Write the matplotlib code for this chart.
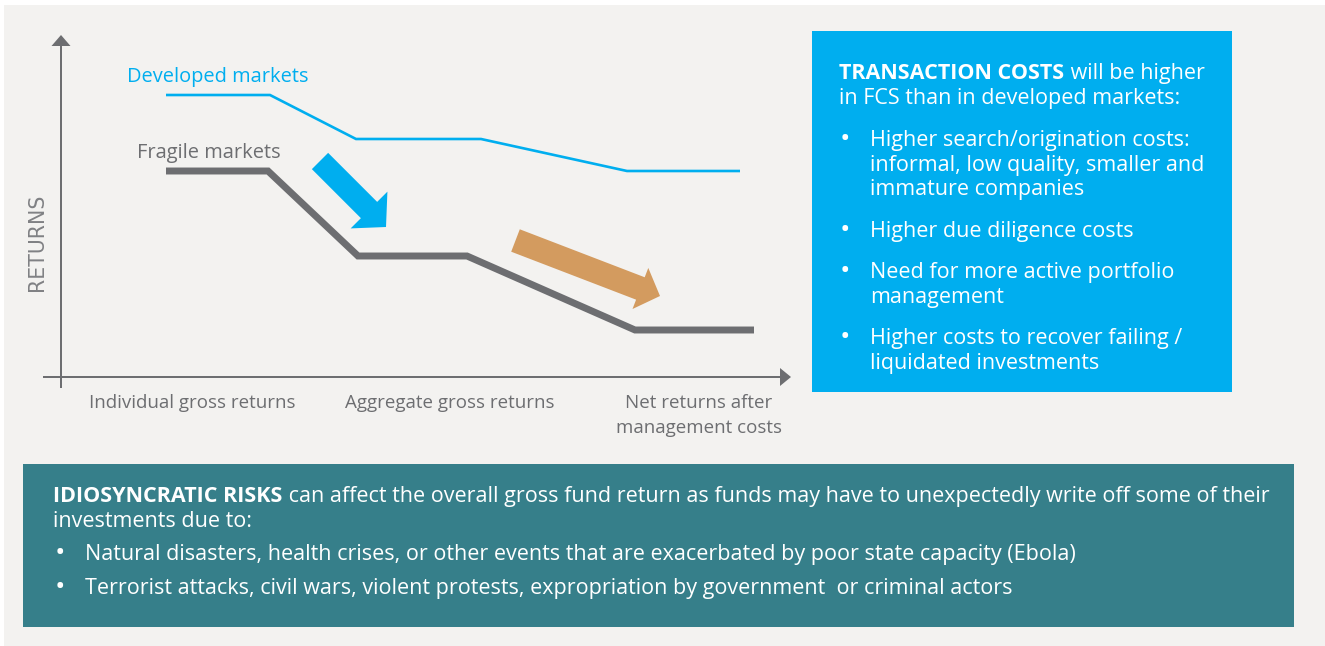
import matplotlib
matplotlib.use("Agg")
import matplotlib.pyplot as plt
from matplotlib.patches import Rectangle, FancyArrow

plt.rcParams['font.family'] = ['Open Sans', 'DejaVu Sans']

W, H, DPI = 1325, 646, 100

# ---------------- data ----------------
stage_labels = ["Individual gross returns", "Aggregate gross returns",
                "Net returns after\nmanagement costs"]
developed_returns = [282, 238, 206]
fragile_returns = [206, 121, 47]
series_names = ["Developed markets", "Fragile markets"]

transaction_title = "TRANSACTION COSTS"
transaction_intro = [" will be higher", "in FCS than in developed markets:"]
transaction_bullets = [
    ["Higher search/origination costs:", "informal, low quality, smaller and", "immature companies"],
    ["Higher due diligence costs"],
    ["Need for more active portfolio", "management"],
    ["Higher costs to recover failing /", "liquidated investments"],
]
risk_title = "IDIOSYNCRATIC RISKS"
risk_intro = [" can affect the overall gross fund return as funds may have to unexpectedly write off some of their",
              "investments due to:"]
risk_bullets = [
    "Natural disasters, health crises, or other events that are exacerbated by poor state capacity (Ebola)",
    "Terrorist attacks, civil wars, violent protests, expropriation by government  or criminal actors",
]

# ---------------- layout / style ----------------
BLUE = "#00aeef"
TEAL = "#367f8a"
GREY = "#6d6e71"
AXC = "#6d6e71"
TAN = "#d39b5f"
PANEL = "#f3f2f0"

stage_centers = [131, 389, 638]
developed_spans = [(105, 209), (295, 420), (566, 679)]
fragile_spans = [(105, 207), (297, 406), (574, 693)]

fig = plt.figure(figsize=(W / DPI, H / DPI), dpi=DPI, facecolor="white")

# background axes in pixel coordinates
bg = fig.add_axes([0, 0, 1, 1])
bg.set_xlim(0, W)
bg.set_ylim(H, 0)
bg.axis("off")
bg.add_patch(Rectangle((4, 5), W - 4, H - 5, color=PANEL, lw=0))
bg.add_patch(Rectangle((812, 31), 420, 361, color=BLUE, lw=0))
bg.add_patch(Rectangle((23, 464), 1271, 163, color=TEAL, lw=0))

renderer = fig.canvas.get_renderer()
TXT = 15.45
BUL = 20


def rich(x, y, bold, rest, **kw):
    t = bg.text(x, y, bold, weight="bold", va="baseline", **kw)
    bb = t.get_window_extent(renderer)
    bg.text(x + bb.width + 1, y, rest, va="baseline", **kw)


def bullet(x, y):
    bg.text(x, y + 1, "•", color="white", fontsize=BUL, va="baseline")


# blue box text
rich(839, 79, transaction_title, transaction_intro[0], color="white", fontsize=TXT)
bg.text(839, 104, transaction_intro[1], color="white", fontsize=TXT, va="baseline")
bullet_baselines = [[146, 171, 195], [237], [278, 303], [344, 369]]
for lines, ys in zip(transaction_bullets, bullet_baselines):
    bullet(840, ys[0])
    for line, y in zip(lines, ys):
        bg.text(870, y, line, color="white", fontsize=TXT, va="baseline")

# teal box text
rich(53, 502, risk_title, risk_intro[0], color="white", fontsize=TXT)
bg.text(53, 527, risk_intro[1], color="white", fontsize=TXT, va="baseline")
for line, y in zip(risk_bullets, [560, 594]):
    bullet(55, y)
    bg.text(85, y, line, color="white", fontsize=TXT, va="baseline")

# ---------------- chart axes ----------------
ax = fig.add_axes([61 / W, 1 - 377 / H, 729 / W, 342 / H])
ax.set_xlim(0, 729)
ax.set_ylim(0, 342)
ax.patch.set_alpha(0)
for s in ax.spines.values():
    s.set_visible(False)
ax.set_yticks([])
ax.set_xticks(stage_centers, stage_labels)
ax.tick_params(axis="x", length=0, pad=12.5, labelsize=13.5, labelcolor=GREY)
for lab in ax.get_xticklabels():
    lab.set_linespacing(1.45)


def steps(spans, values):
    xs, ys = [], []
    for (a, b), v in zip(spans, values):
        xs += [a, b]
        ys += [v, v]
    return xs, ys


dx, dy = steps(developed_spans, developed_returns)
fx, fy = steps(fragile_spans, fragile_returns)
ax.plot(dx, dy, color=BLUE, lw=1.9, solid_joinstyle="miter", solid_capstyle="butt")
ax.plot(fx, fy, color=GREY, lw=5.0, solid_joinstyle="miter", solid_capstyle="butt")

ax.text(66, 295, series_names[0], color=BLUE, fontsize=14.4, va="baseline")
ax.text(76, 219, series_names[1], color=GREY, fontsize=14.4, va="baseline")

# axes arrows
ax.add_patch(FancyArrow(0, -11, 0, 353, width=2, head_width=19, head_length=11,
                        length_includes_head=True, color=AXC, lw=0, clip_on=False))
ax.add_patch(FancyArrow(-18, 0, 748, 0, width=2, head_width=18, head_length=11,
                        length_includes_head=True, color=AXC, lw=0, clip_on=False))
ax.text(-24, 135, "RETURNS", rotation=90, ha="center", va="center", color="#808184",
        fontsize=14.8, family=["DejaVu Sans"], clip_on=False)

# decorative arrows
ax.add_patch(FancyArrow(259, 216, 66, -66, width=23, head_width=52, head_length=24,
                        length_includes_head=True, color=BLUE, lw=0))
ax.add_patch(FancyArrow(454.5, 136.5, 144.5, -55.5, width=24, head_width=44, head_length=21,
                        length_includes_head=True, color=TAN, lw=0))

fig.savefig("out.png", dpi=DPI, facecolor="white")
